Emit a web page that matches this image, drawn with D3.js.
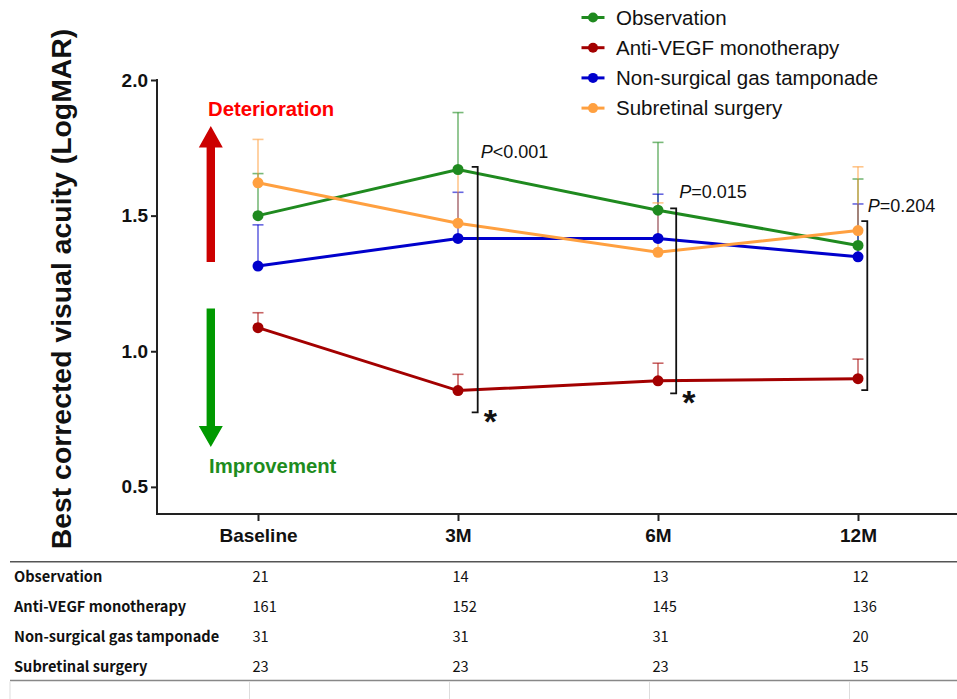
<!DOCTYPE html>
<html>
<head>
<meta charset="utf-8">
<script src="https://cdn.jsdelivr.net/npm/d3@7"></script>
<style>
  html, body { margin: 0; padding: 0; background: #fff; }
  svg { display: block; }
</style>
</head>
<body>
<svg id="chart" width="957" height="699"></svg>
<script>
// Visits along the x axis
const categories = ["Baseline", "3M", "6M", "12M"];

// Group names (legend and table rows)
const groups = ["Observation", "Anti-VEGF monotherapy", "Non-surgical gas tamponade", "Subretinal surgery"];

// Mean BCVA (LogMAR) per group and visit
const observationMean = [1.50, 1.67, 1.52, 1.39];
const antiVegfMean    = [1.087, 0.855, 0.891, 0.899];
const gasMean         = [1.314, 1.416, 1.416, 1.348];
const subretinalMean  = [1.621, 1.472, 1.365, 1.445];

// Standard deviations (upper error bars)
const observationSD = [0.155, 0.21, 0.25, 0.245];
const antiVegfSD    = [0.055, 0.06, 0.065, 0.072];
const gasSD         = [0.152, 0.17, 0.163, 0.195];
const subretinalSD  = [0.16, 0.19, 0.182, 0.235];

// Number of eyes per group and visit
const observationN = [21, 14, 13, 12];
const antiVegfN    = [161, 152, 145, 136];
const gasN         = [31, 31, 31, 20];
const subretinalN  = [23, 23, 23, 15];

// Between-group comparisons at follow-up visits
const pVisits      = ["3M", "6M", "12M"];
const pLabels      = ["<0.001", "=0.015", "=0.204"];
const pSignificant = [true, true, false];
const bracketTop    = [1.68, 1.527, 1.48];
const bracketBottom = [0.775, 0.845, 0.857];

// Y axis ticks
const yTicks = [0.5, 1.0, 1.5, 2.0];

const colors = ["#1f8a1f", "#a30000", "#0000cc", "#ffa040"];
const means = [observationMean, antiVegfMean, gasMean, subretinalMean];
const sds = [observationSD, antiVegfSD, gasSD, subretinalSD];
const counts = [observationN, antiVegfN, gasN, subretinalN];

const svg = d3.select("#chart");
const FONT = "'Liberation Sans', Arial, sans-serif";
const TFONT = "'Noto Sans CJK KR', 'Noto Sans', sans-serif";

const x = d3.scalePoint().domain(categories).range([258, 858]);
const y = d3.scaleLinear().domain([0.4, 2.0]).range([514, 80]);
const axisLeftX = 157;

// Axes
const yAxis = svg.append("g")
  .attr("transform", `translate(${axisLeftX},0)`)
  .call(d3.axisLeft(y).tickValues(yTicks).tickFormat(d3.format(".1f")).tickSize(6).tickSizeOuter(0).tickPadding(3));
yAxis.select(".domain").remove();
yAxis.selectAll(".tick line").attr("stroke", "#222").attr("stroke-width", 2);
yAxis.selectAll(".tick text").attr("font-family", FONT).attr("font-weight", "bold")
  .attr("font-size", 19).attr("fill", "#111");

svg.append("line").attr("x1", axisLeftX).attr("x2", axisLeftX)
  .attr("y1", y(2.0) - 1).attr("y2", y(0.4))
  .attr("stroke", "#222").attr("stroke-width", 2);
svg.append("line").attr("x1", axisLeftX - 1).attr("x2", 957)
  .attr("y1", y(0.4)).attr("y2", y(0.4))
  .attr("stroke", "#222").attr("stroke-width", 2);

const xAxis = svg.append("g")
  .attr("transform", `translate(0,${y(0.4)})`)
  .call(d3.axisBottom(x).tickSize(7).tickSizeOuter(0).tickPadding(8));
xAxis.select(".domain").remove();
xAxis.selectAll(".tick line").attr("stroke", "#222").attr("stroke-width", 2);
xAxis.selectAll(".tick text").attr("font-family", FONT).attr("font-weight", "bold")
  .attr("font-size", 19).attr("fill", "#111");

// Y axis title
svg.append("text")
  .attr("transform", "translate(71,289) rotate(-90)")
  .attr("text-anchor", "middle")
  .attr("font-family", FONT).attr("font-weight", "bold").attr("font-size", 28.4)
  .attr("fill", "#111")
  .text("Best corrected visual acuity (LogMAR)");

// Direction arrows
function arrow(x0, yTail, yBase, yTip, color) {
  const sw = 4.2, hw = 12;
  const p = d3.path();
  p.moveTo(x0 - sw, yTail); p.lineTo(x0 - sw, yBase); p.lineTo(x0 - hw, yBase);
  p.lineTo(x0, yTip); p.lineTo(x0 + hw, yBase); p.lineTo(x0 + sw, yBase);
  p.lineTo(x0 + sw, yTail); p.closePath();
  svg.append("path").attr("d", p.toString()).attr("fill", color);
}
arrow(210.8, 262, 147.5, 126, "#cc0000");
arrow(210.8, 308.5, 426, 447, "#009900");

svg.append("text").attr("x", 208).attr("y", 116)
  .attr("font-family", FONT).attr("font-weight", "bold").attr("font-size", 20.3)
  .attr("fill", "#ff0000").text("Deterioration");
svg.append("text").attr("x", 209).attr("y", 473)
  .attr("font-family", FONT).attr("font-weight", "bold").attr("font-size", 20.3)
  .attr("fill", "#1e8c1e").text("Improvement");

// Error bars (upper SD only)
const errG = svg.append("g");
means.forEach((m, gi) => {
  categories.forEach((c, i) => {
    const cx = x(c), y0 = y(m[i]), y1 = y(m[i] + sds[gi][i]);
    errG.append("line").attr("x1", cx).attr("x2", cx).attr("y1", y0).attr("y2", y1)
      .attr("stroke", colors[gi]).attr("stroke-opacity", 0.6).attr("stroke-width", 1.6);
    errG.append("line").attr("x1", cx - 5.5).attr("x2", cx + 5.5).attr("y1", y1).attr("y2", y1)
      .attr("stroke", colors[gi]).attr("stroke-opacity", 0.6).attr("stroke-width", 1.6);
  });
});

// Mean lines and markers
const line = d3.line().x((d, i) => x(categories[i])).y(d => y(d));
[0, 1, 2, 3].forEach(gi => {
  const g = svg.append("g");
  g.append("path").attr("d", line(means[gi])).attr("fill", "none")
    .attr("stroke", colors[gi]).attr("stroke-width", 3);
  g.selectAll("circle").data(means[gi]).join("circle")
    .attr("cx", (d, i) => x(categories[i])).attr("cy", d => y(d))
    .attr("r", 5.5).attr("fill", colors[gi]);
});

// Significance brackets
const bracketDx = [19.7, 18.2, 9.3];
const labelDx = [3, 3, 0.5];
const labelDy = [-8.5, -10.5, -8.7];
pVisits.forEach((v, i) => {
  const bx = x(v) + bracketDx[i];
  const yt = y(bracketTop[i]), yb = y(bracketBottom[i]);
  const p = d3.path();
  p.moveTo(bx - 6, yt); p.lineTo(bx, yt); p.lineTo(bx, yb); p.lineTo(bx - 6, yb);
  svg.append("path").attr("d", p.toString()).attr("fill", "none")
    .attr("stroke", "#111").attr("stroke-width", 1.8);
  const t = svg.append("text").attr("x", bx + labelDx[i]).attr("y", yt + labelDy[i])
    .attr("font-family", FONT).attr("font-size", 18).attr("fill", "#111");
  t.append("tspan").attr("font-style", "italic").text("P");
  t.append("tspan").text(pLabels[i]);
  if (pSignificant[i]) {
    svg.append("text").attr("x", bx + 6).attr("y", yb + 21)
      .attr("font-family", FONT).attr("font-weight", "bold").attr("font-size", 34)
      .attr("fill", "#111").text("*");
  }
});

// Legend
groups.forEach((name, i) => {
  const ly = 17.5 + i * 30.2;
  svg.append("line").attr("x1", 581.5).attr("x2", 604.5).attr("y1", ly).attr("y2", ly)
    .attr("stroke", colors[i]).attr("stroke-width", 3);
  svg.append("circle").attr("cx", 593).attr("cy", ly).attr("r", 5).attr("fill", colors[i]);
  svg.append("text").attr("x", 616).attr("y", ly + 7.3)
    .attr("font-family", FONT).attr("font-size", 20.5).attr("fill", "#111").text(name);
});

// Sample-size table
const tableTop = 561.7, tableBottom = 680.5, rowStep = 30;
svg.append("line").attr("x1", 10).attr("x2", 957).attr("y1", tableTop).attr("y2", tableTop)
  .attr("stroke", "#555").attr("stroke-width", 1.6);
svg.append("line").attr("x1", 10).attr("x2", 957).attr("y1", tableBottom).attr("y2", tableBottom)
  .attr("stroke", "#888").attr("stroke-width", 1.6);
[10].concat(categories.map(c => x(c) - 8.5)).forEach(vx => {
  svg.append("line").attr("x1", vx).attr("x2", vx).attr("y1", tableBottom + 1).attr("y2", 699)
    .attr("stroke", "#ddd").attr("stroke-width", 1);
});
groups.forEach((name, ri) => {
  const by = 582 + ri * rowStep;
  svg.append("text").attr("x", 14).attr("y", by)
    .attr("font-family", TFONT).attr("font-weight", "bold").attr("font-size", 14.6)
    .attr("fill", "#111").text(name);
  counts[ri].forEach((n, ci) => {
    svg.append("text").attr("x", x(categories[ci]) - 5.5).attr("y", by)
      .attr("font-family", TFONT).attr("font-size", 14.6)
      .attr("fill", "#111").text(n);
  });
});
</script>
</body>
</html>
